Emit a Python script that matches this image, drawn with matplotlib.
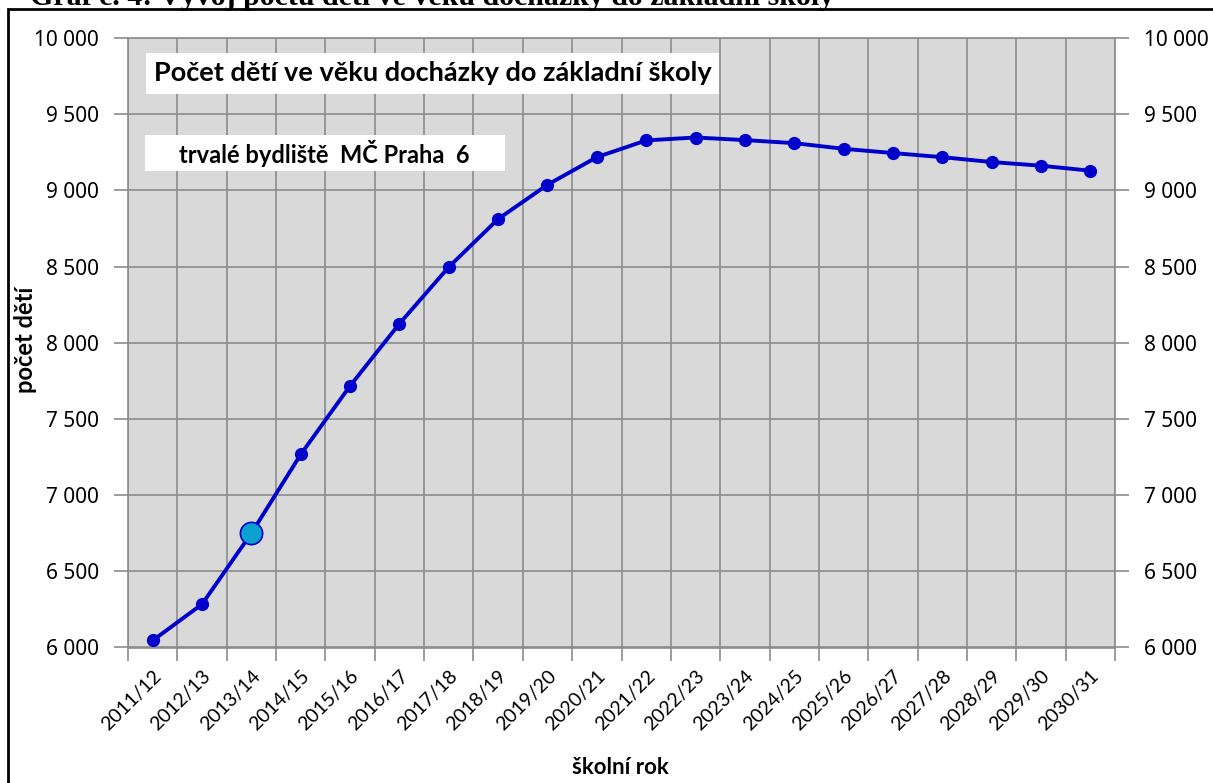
import numpy as np
import matplotlib
matplotlib.use("Agg")
import matplotlib.pyplot as plt
from matplotlib.ticker import FixedLocator, FuncFormatter
from matplotlib.patches import Rectangle

# school years and number of children
years = ["2011/12", "2012/13", "2013/14", "2014/15", "2015/16", "2016/17",
         "2017/18", "2018/19", "2019/20", "2020/21", "2021/22", "2022/23",
         "2023/24", "2024/25", "2025/26", "2026/27", "2027/28", "2028/29",
         "2029/30", "2030/31"]
children = [6046, 6284, 6750, 7267, 7717, 8125, 8497, 8812, 9037, 9218,
            9328, 9347, 9330, 9310, 9273, 9245, 9218, 9186, 9162, 9129]
highlight = "2013/14"
y_ticks = [6000, 6500, 7000, 7500, 8000, 8500, 9000, 9500, 10000]

BLUE = "#0000CC"
GRID = "#8C8C8C"

fig = plt.figure(figsize=(12.13, 7.83), dpi=100)

# outer frame + caption cut off at the very top
fig.patches.append(Rectangle((8 / 1213, -0.05), 1.2, 1 - 9 / 783 + 0.05,
                             transform=fig.transFigure, fill=False,
                             edgecolor="black", linewidth=2, clip_on=False))
fig.text(30 / 1213, 1 - 5 / 783, "Graf č. 4: Vývoj počtu dětí ve věku docházky do základní školy",
         family="Liberation Serif", fontweight="bold", fontsize=21.5,
         va="baseline", ha="left")

ax = fig.add_axes([128 / 1213, 1 - 647.5 / 783, 987 / 1213, 609.5 / 783])
ax.set_facecolor("#D9D9D9")

x = np.arange(len(years))
ax.plot(x, children, color=BLUE, lw=2.8, marker="o", markersize=8.5, zorder=3)
hi = years.index(highlight)
ax.plot(x[hi], children[hi], marker="o", markersize=16, color="#0BA0D0",
        markeredgecolor=BLUE, markeredgewidth=1.2, zorder=4)

ax.set_xlim(-0.5, len(years) - 0.5)
ax.set_ylim(6000, 10000)

ax.xaxis.set_major_locator(FixedLocator(x))
ax.xaxis.set_minor_locator(FixedLocator(np.arange(len(years) + 1) - 0.5))
ax.set_xticklabels(years, rotation=45, ha="right", rotation_mode="anchor",
                   family="Lato", fontsize=14)
ax.tick_params(axis="x", which="major", length=0, pad=14)
ax.tick_params(axis="x", which="minor", length=9, color=GRID, width=1.2)

ax.yaxis.set_major_locator(FixedLocator(y_ticks))
ax.yaxis.set_major_formatter(FuncFormatter(lambda v, p: f"{v:,.0f}".replace(",", " ")))
ax.tick_params(axis="y", length=10, color=GRID, width=1.2, labelsize=15,
               right=True, labelright=True, pad=11)
for lab in ax.get_yticklabels():
    lab.set_family("Noto Sans")

ax.grid(True, which="minor", axis="x", color=GRID, lw=1.2)
ax.grid(True, which="major", axis="y", color=GRID, lw=1.2)
ax.set_axisbelow(True)
for s in ax.spines.values():
    s.set_color(GRID)
    s.set_linewidth(1.2)

ax.set_ylabel("počet dětí", family="Lato", fontweight="bold", fontsize=17)
ax.yaxis.set_label_coords(-0.0922, 0.5045)
ax.set_xlabel("školní rok", family="Lato", fontweight="bold", fontsize=16)
ax.xaxis.set_label_coords(0.4985, -0.180)

# white text boxes inside the plot
ax.add_patch(Rectangle((0.0182, 0.9081), 0.5805, 0.0673, transform=ax.transAxes,
                       facecolor="white", edgecolor="none", zorder=5))
ax.text(0.3085, 0.9418, "Počet dětí ve věku docházky do základní školy",
        transform=ax.transAxes, family="Lato", fontweight="bold", fontsize=19.5,
        va="center", ha="center", zorder=6)
ax.add_patch(Rectangle((0.0172, 0.7818), 0.3647, 0.0591, transform=ax.transAxes,
                       facecolor="white", edgecolor="none", zorder=5))
ax.text(0.1986, 0.8113, "trvalé bydliště  MČ Praha  6",
        transform=ax.transAxes, family="Lato", fontweight="bold", fontsize=17,
        va="center", ha="center", zorder=6)

fig.savefig("out.png", dpi=100)
